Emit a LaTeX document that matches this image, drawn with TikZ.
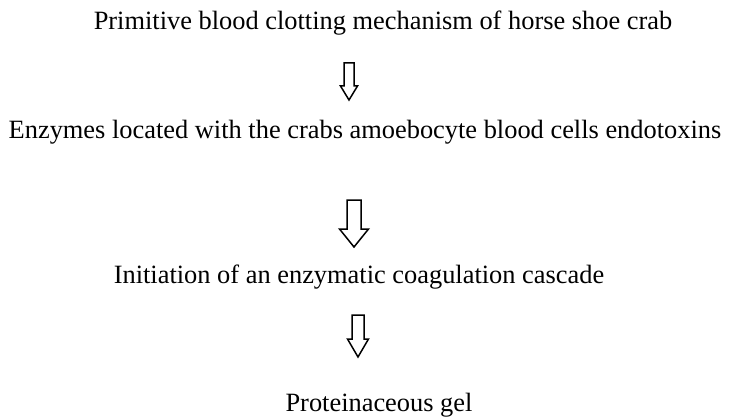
\documentclass[tikz,border=0pt]{standalone}
\usepackage{fontspec}
\setmainfont{Liberation Serif}
\usepackage{tikz}

% hollow block arrow: centre x, top y, tip y, shaft half width, head half width, head length
\newcommand{\blockarrow}[6]{%
  \draw[arrowline] (#1-#4,#2) -- (#1+#4,#2) -- (#1+#4,#3-#6) -- (#1+#5,#3-#6)
    -- (#1,#3) -- (#1-#5,#3-#6) -- (#1-#4,#3-#6) -- cycle;}

\begin{document}
\begin{tikzpicture}[
    x=1pt, y=-1pt,
    step text/.style={anchor=base, inner sep=0pt, font=\fontsize{26.4}{30}\selectfont},
    arrowline/.style={line width=1.5pt, line join=miter}
  ]
  \useasboundingbox (0,0) rectangle (731,417);

  % Steps
  \node[step text] (mechanism) at (383,30)  {Primitive blood clotting mechanism of horse shoe crab};
  \node[step text] (enzymes)   at (365,139) {Enzymes located with the crabs amoebocyte blood cells endotoxins};
  \node[step text] (cascade)   at (359,283) {Initiation of an enzymatic coagulation cascade};
  \node[step text] (gel)       at (379,411) {Proteinaceous gel};

  % Arrows
  \blockarrow{349}{63}{100}{5}{8.5}{14}
  \blockarrow{354}{200}{247}{7}{14.5}{18}
  \blockarrow{358}{315}{357}{6}{10.5}{18}
\end{tikzpicture}
\end{document}
